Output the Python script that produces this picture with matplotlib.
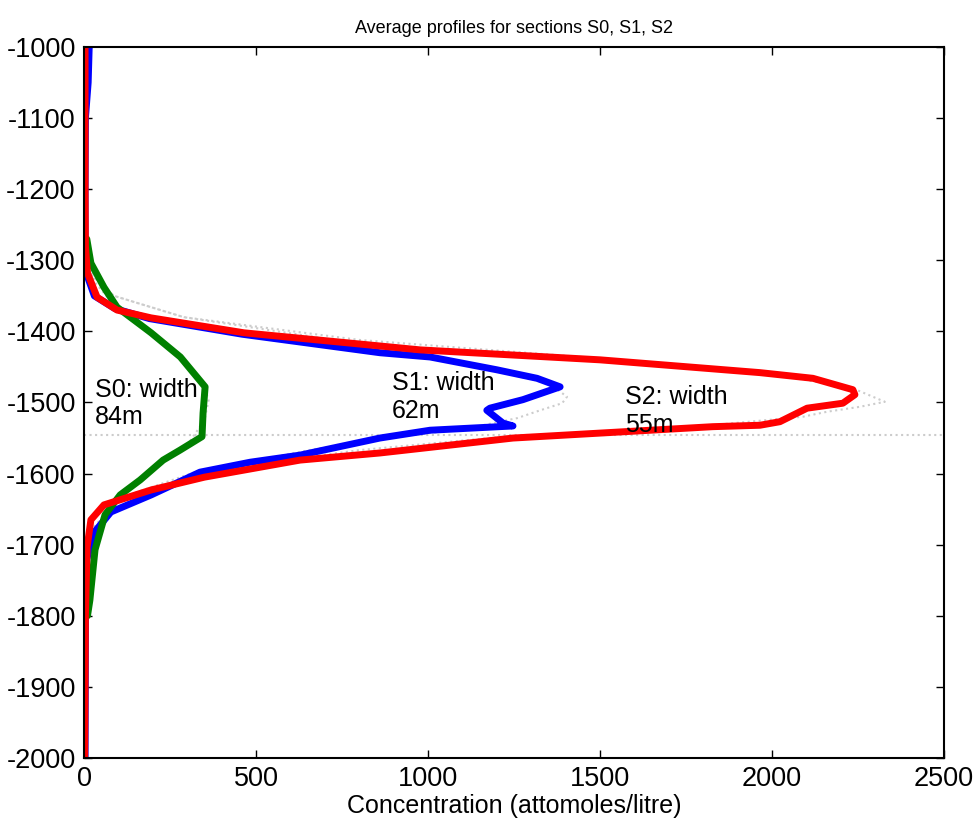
import numpy as np
import matplotlib
matplotlib.use("Agg")
import matplotlib.pyplot as plt

plt.rcParams['font.family'] = ['Liberation Sans', 'DejaVu Sans']
plt.rcParams['axes.unicode_minus'] = False

# measured profiles (concentration, depth)
s0_conc = [8, 20, 58, 96, 195, 280, 328, 352, 346, 343, 279, 230, 163, 105, 61, 32, 17, 10]
s0_depth = [-1270, -1304, -1338, -1366, -1402, -1436, -1464, -1478, -1515, -1548, -1567,
            -1581, -1609, -1630, -1658, -1707, -1778, -1800]

s1_conc = [15, 12, 4, 3, 3, 8, 30, 90, 190, 460, 860, 1006, 1200, 1317, 1384, 1276, 1180,
           1171, 1218, 1247, 1006, 860, 628, 483, 337, 195, 78, 29, 8, 4, 3]
s1_depth = [-1000, -1050, -1100, -1200, -1290, -1320, -1350, -1368, -1382, -1404, -1430,
            -1436, -1454, -1466, -1478, -1496, -1508, -1511, -1529, -1533, -1539, -1550,
            -1574, -1584, -1598, -1630, -1654, -1683, -1720, -1800, -2000]

s2_conc = [3, 3, 3, 4, 10, 38, 96, 195, 465, 977, 1500, 1965, 2119, 2235, 2241, 2206, 2102,
           2023, 1965, 1828, 1247, 860, 628, 350, 195, 58, 20, 9, 4, 3, 2]
s2_depth = [-1000, -1100, -1200, -1280, -1318, -1352, -1370, -1381, -1402, -1426, -1440,
            -1458, -1466, -1482, -1489, -1501, -1508, -1527, -1532, -1534, -1550, -1571,
            -1581, -1605, -1623, -1644, -1665, -1703, -1800, -1900, -2000]

# fitted profiles (dotted)
f0_conc = [0, 30, 100, 200, 290, 345, 362, 350, 300, 200, 100, 30, 0]
f0_depth = [-1280, -1330, -1370, -1405, -1440, -1470, -1497, -1525, -1560, -1595, -1635, -1690, -1760]

f1_conc = [0, 20, 87, 290, 700, 1000, 1230, 1355, 1404, 1390, 1326, 1259, 1100, 800, 400, 100, 20, 0]
f1_depth = [-1260, -1320, -1350, -1380, -1410, -1432, -1459, -1474, -1492, -1501, -1511,
            -1522, -1538, -1554, -1590, -1640, -1690, -1760]

f2_conc = [0, 20, 87, 290, 800, 1500, 2000, 2235, 2328, 2256, 2160, 2090, 1800, 1200, 800,
           317, 100, 20, 0]
f2_depth = [-1250, -1320, -1350, -1380, -1412, -1438, -1460, -1480, -1499, -1506, -1513,
            -1520, -1533, -1549, -1567, -1599, -1635, -1680, -1750]

base_depth = -1546

labels = ["S0: width\n84m", "S1: width\n62m", "S2: width\n55m"]
label_x = [32, 895, 1573]
label_y = [-1465, -1456, -1475]

fig = plt.figure(figsize=(9.76, 8.21), dpi=100)
ax = fig.add_axes([0.0861, 0.0767, 0.8811, 0.8661])

dot = dict(color='#cccccc', lw=1.5, ls=':')
ax.plot(f0_conc, f0_depth, **dot)
ax.plot(f1_conc, f1_depth, **dot)
ax.plot(f2_conc, f2_depth, **dot)
ax.axhline(base_depth, **dot)

style = dict(lw=5, solid_joinstyle='round', solid_capstyle='round')
ax.plot(s1_conc, s1_depth, color='blue', **style)
ax.plot(s0_conc, s0_depth, color='green', **style)
ax.plot(s2_conc, s2_depth, color='red', **style)

for t, x, y in zip(labels, label_x, label_y):
    ax.text(x, y, t, fontsize=18, va='top', ha='left', linespacing=1.2)

ax.set_xlim(0, 2500)
ax.set_ylim(-2000, -1000)
ax.set_xticks(np.arange(0, 2501, 500))
ax.set_yticks(np.arange(-2000, -999, 100))
ax.tick_params(direction='in', top=True, right=True, length=6, width=1, labelsize=19.5, pad=6)
for s in ax.spines.values():
    s.set_linewidth(1.5)

ax.set_title("Average profiles for sections S0, S1, S2", fontsize=13, pad=10)
ax.set_xlabel("Concentration (attomoles/litre)", fontsize=18, labelpad=1)

fig.savefig("out.png", dpi=100)
